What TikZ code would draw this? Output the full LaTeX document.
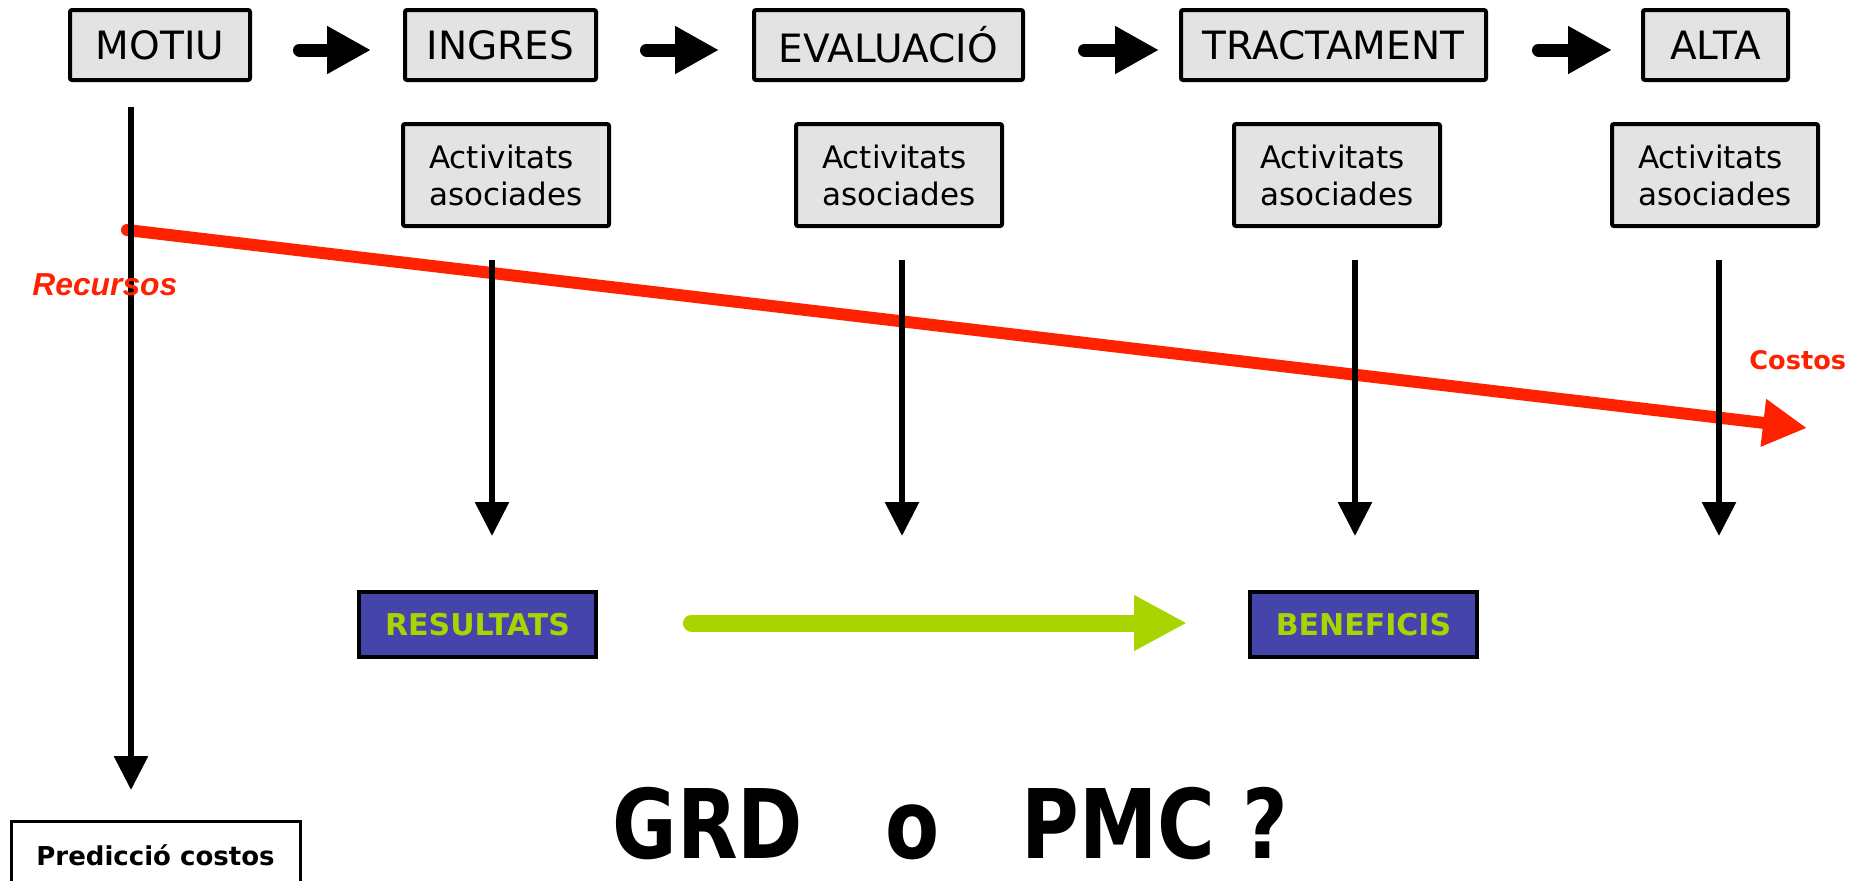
\documentclass[tikz,border=0pt]{standalone}
\usepackage{fontspec}
\setmainfont{DejaVu Sans}
\newfontfamily\arialfont{Liberation Sans}
\usetikzlibrary{arrows.meta}
\definecolor{boxgray}{HTML}{E3E3E3}
\definecolor{redc}{HTML}{FF2200}
\definecolor{bluebox}{HTML}{4444AA}
\definecolor{greenc}{HTML}{AAD400}
\begin{document}
\begin{tikzpicture}[x=0.5pt,y=-0.5pt,
  topbox/.style={draw=black, line width=2pt, fill=boxgray, rounded corners=1pt, minimum height=35pt, inner sep=0pt, font=\fontsize{19.5}{23}\selectfont},
  actbox/.style={draw=black, line width=2pt, fill=boxgray, rounded corners=1pt, minimum width=103pt, minimum height=51pt, inner sep=0pt, align=left, font=\fontsize{15.5}{18.5}\selectfont},
  bluebx/.style={draw=black, line width=2pt, fill=bluebox, minimum height=32.5pt, inner sep=0pt, text=greenc, font=\bfseries\fontsize{15}{18}\selectfont},
  blockarrow/.style={line width=6.5pt, line cap=round, -{Triangle[length=22pt,width=22.5pt]}},
  downarrow/.style={line width=3pt, -{Triangle[length=17pt,width=16.5pt]}},
  redarrow/.style={draw=redc, line width=6pt, line cap=round, -{Triangle[length=22pt,width=22.5pt]}},
  greenarrow/.style={draw=greenc, line width=8.5pt, line cap=round, -{Triangle[length=26.5pt,width=26pt]}},
  lbl/.style={inner sep=0pt, anchor=base west},
]
\useasboundingbox (0,0) rectangle (1865,880);
\clip (0,0) rectangle (1865,880);

% top row
\node[topbox, minimum width=90pt]    (motiu) at (160,45)    {MOTIU};
\node[topbox, minimum width=95.5pt]  (ingres) at (500.5,45) {INGRES};
\node[topbox, minimum width=134.5pt] (eval) at (888.5,45)   {EVALUACIÓ};
\node[topbox, minimum width=152.5pt] (tract) at (1333.5,45) {TRACTAMENT};
\node[topbox, minimum width=72.5pt]  (alta) at (1715.5,45)  {ALTA};

% activities
\node[actbox] (act1) at (506,175)  {Activitats\\asociades};
\node[actbox] (act2) at (899,175)  {Activitats\\asociades};
\node[actbox] (act3) at (1337,175) {Activitats\\asociades};
\node[actbox] (act4) at (1715,175) {Activitats\\asociades};

% top block arrows
\coordinate (a1s) at (299.5,50);  \coordinate (a1e) at (371,50);
\coordinate (a2s) at (646.5,50);  \coordinate (a2e) at (719,50);
\coordinate (a3s) at (1084.5,50); \coordinate (a3e) at (1159,50);
\coordinate (a4s) at (1538.5,50); \coordinate (a4e) at (1612,50);
\draw[blockarrow] (a1s) -- (a1e);
\draw[blockarrow] (a2s) -- (a2e);
\draw[blockarrow] (a3s) -- (a3e);
\draw[blockarrow] (a4s) -- (a4e);

% red cost line
\coordinate (rs) at (127,230);
\coordinate (re) at (1807,428);
\draw[redarrow] (rs) -- (re);

% vertical arrows
\coordinate (v1s) at (492,260);  \coordinate (v1e) at (492,536);
\coordinate (v2s) at (902,260);  \coordinate (v2e) at (902,536);
\coordinate (v3s) at (1355,260); \coordinate (v3e) at (1355,536);
\coordinate (v4s) at (1719,260); \coordinate (v4e) at (1719,536);
\draw[downarrow] (v1s) -- (v1e);
\draw[downarrow] (v2s) -- (v2e);
\draw[downarrow] (v3s) -- (v3e);
\draw[downarrow] (v4s) -- (v4e);
\coordinate (ms) at (131,107); \coordinate (me) at (131,790);
\draw[downarrow] (ms) -- (me);

% labels
\node[lbl, text=redc, font=\arialfont\bfseries\itshape\fontsize{15.9}{19}\selectfont] (recursos) at (32,295) {Recursos};
\node[lbl, text=redc, font=\bfseries\fontsize{12.8}{15}\selectfont] (costos) at (1749,369) {Costos};

% results
\node[bluebx, minimum width=118.5pt] (res) at (477.5,624.5)  {RESULTATS};
\node[bluebx, minimum width=113.5pt] (ben) at (1363.5,624.5) {BENEFICIS};
\coordinate (gs) at (691.5,623);
\coordinate (ge) at (1187,623);
\draw[greenarrow] (gs) -- (ge);

% prediction
\node[draw=black, line width=1.5pt, fill=white, anchor=north, minimum width=144.5pt, minimum height=34pt, inner sep=0pt, font=\bfseries\fontsize{13}{15}\selectfont] (pred) at (155.5,820) {Predicció costos};

% question
\node[lbl, font=\bfseries\fontsize{48}{58}\selectfont] (q) at (612,858) {\scalebox{0.82}[1]{GRD\ \ \ o\ \ \ PMC\ ?}};
\end{tikzpicture}
\end{document}
